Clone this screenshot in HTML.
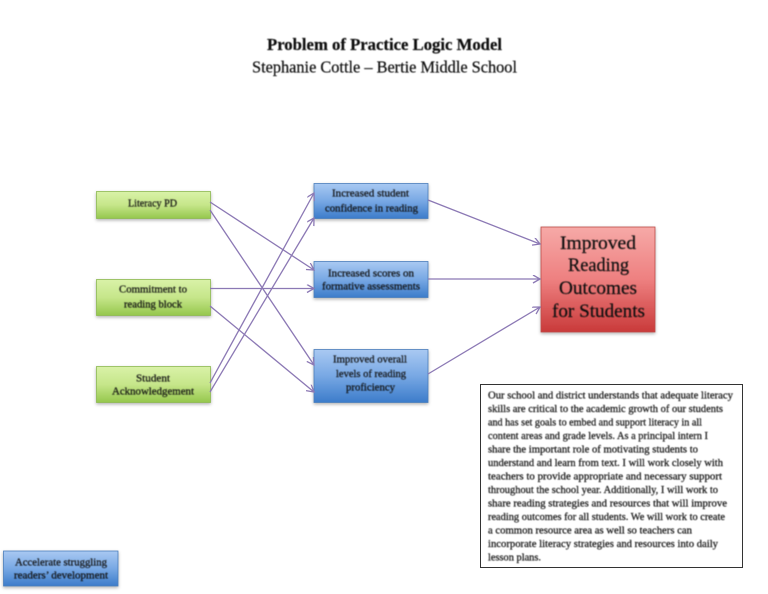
<!DOCTYPE html>
<html>
<head>
<meta charset="utf-8">
<style>
html,body{margin:0;padding:0;background:#fff;}
svg{display:block;}
text{font-family:"Liberation Serif","DejaVu Serif",serif;fill:#111;stroke:#111;stroke-width:0.22px;}
.s{font-size:10.5px;}
.p{font-size:10.5px;}
.r{font-size:19px;}
</style>
</head>
<body>
<svg width="768" height="594" viewBox="0 0 768 594" xmlns="http://www.w3.org/2000/svg">
<defs>
<linearGradient id="g" x1="0" y1="0" x2="0" y2="1"><stop offset="0" stop-color="#d9f2a8"/><stop offset="0.5" stop-color="#c6e68a"/><stop offset="1" stop-color="#95c74d"/></linearGradient>
<linearGradient id="b" x1="0" y1="0" x2="0" y2="1"><stop offset="0" stop-color="#a9c9f2"/><stop offset="0.5" stop-color="#78a8e4"/><stop offset="1" stop-color="#3c7cca"/></linearGradient>
<linearGradient id="rd" x1="0" y1="0" x2="0" y2="1"><stop offset="0" stop-color="#f6a9a7"/><stop offset="0.5" stop-color="#ee8080"/><stop offset="1" stop-color="#c93a3a"/></linearGradient>
<filter id="sh" x="-10%" y="-10%" width="120%" height="130%"><feDropShadow dx="0" dy="1.5" stdDeviation="1.5" flood-color="#000" flood-opacity="0.3"/></filter>
<filter id="bl" x="-5%" y="-5%" width="110%" height="110%"><feGaussianBlur stdDeviation="0.4"/></filter>
<marker id="a" markerWidth="10" markerHeight="10" refX="8" refY="4" orient="auto" markerUnits="userSpaceOnUse"><path d="M1,0 L8,4 L1,8" fill="none" stroke="#8b78b4" stroke-width="1.3"/></marker>
</defs>

<g fill="url(#g)" stroke="#8cb850" stroke-width="0.8" filter="url(#sh)">
<rect x="96.500" y="191.500" width="114" height="27"/>
<rect x="96.500" y="279.500" width="114" height="36"/>
<rect x="96.500" y="366.500" width="114" height="36"/>
</g>
<g fill="url(#b)" stroke="#4a7ebb" stroke-width="0.8" filter="url(#sh)">
<rect x="314" y="183.500" width="114" height="35"/>
<rect x="314" y="261.500" width="114" height="36"/>
<rect x="314" y="349.500" width="114" height="53"/>
<rect x="3.500" y="551" width="114.500" height="35"/>
</g>
<rect x="541" y="227" width="114" height="105" fill="url(#rd)" stroke="#be4b48" stroke-width="0.8" filter="url(#sh)"/>
<rect x="480.500" y="384.500" width="262" height="183" fill="#fff" stroke="#333" stroke-width="1"/>

<g fill="none" stroke="#8b78b4" stroke-width="1.3" marker-end="url(#a)">
<line x1="210" y1="202" x2="314" y2="270"/>
<line x1="210" y1="210" x2="314" y2="365"/>
<line x1="210" y1="288.500" x2="314" y2="288.500"/>
<line x1="210" y1="306" x2="314" y2="392"/>
<line x1="210" y1="383" x2="314" y2="193"/>
<line x1="210" y1="392" x2="314" y2="218"/>
<line x1="428" y1="200" x2="540" y2="244"/>
<line x1="428" y1="279" x2="540" y2="279"/>
<line x1="428" y1="374" x2="540" y2="307"/>
</g>

<g filter="url(#bl)">
<text x="267" y="50" font-size="16.500" font-weight="bold" textLength="235" lengthAdjust="spacingAndGlyphs">Problem of Practice Logic Model</text>
<text x="252" y="72.500" font-size="16.500" textLength="265" lengthAdjust="spacingAndGlyphs">Stephanie Cottle – Bertie Middle School</text>

<text class="s" x="128" y="206.500" textLength="49" lengthAdjust="spacingAndGlyphs">Literacy PD</text>
<text class="s" x="119" y="292.500" textLength="68" lengthAdjust="spacingAndGlyphs">Commitment to</text>
<text class="s" x="124" y="307.500" textLength="58" lengthAdjust="spacingAndGlyphs">reading block</text>
<text class="s" x="136" y="381.500" textLength="34" lengthAdjust="spacingAndGlyphs">Student</text>
<text class="s" x="112" y="394.500" textLength="82" lengthAdjust="spacingAndGlyphs">Acknowledgement</text>

<text class="s" x="332" y="196.500" textLength="77" lengthAdjust="spacingAndGlyphs">Increased student</text>
<text class="s" x="325" y="211.500" textLength="93" lengthAdjust="spacingAndGlyphs">confidence in reading</text>
<text class="s" x="328" y="276.500" textLength="86" lengthAdjust="spacingAndGlyphs">Increased scores on</text>
<text class="s" x="322" y="289.500" textLength="98" lengthAdjust="spacingAndGlyphs">formative assessments</text>
<text class="s" x="333" y="362.500" textLength="74" lengthAdjust="spacingAndGlyphs">Improved overall</text>
<text class="s" x="336" y="377" textLength="70" lengthAdjust="spacingAndGlyphs">levels of reading</text>
<text class="s" x="346" y="390.500" textLength="49" lengthAdjust="spacingAndGlyphs">proficiency</text>

<text class="s" x="15" y="565.500" textLength="92" lengthAdjust="spacingAndGlyphs">Accelerate struggling</text>
<text class="s" x="14" y="578.500" textLength="94" lengthAdjust="spacingAndGlyphs">readers’ development</text>

<text class="r" x="560" y="249" textLength="76" lengthAdjust="spacingAndGlyphs">Improved</text>
<text class="r" x="568" y="271" textLength="61" lengthAdjust="spacingAndGlyphs">Reading</text>
<text class="r" x="559" y="294" textLength="78" lengthAdjust="spacingAndGlyphs">Outcomes</text>
<text class="r" x="552" y="317" textLength="93" lengthAdjust="spacingAndGlyphs">for Students</text>

<text class="p" x="488" y="398.500" textLength="245" lengthAdjust="spacingAndGlyphs">Our school and district understands that adequate literacy</text>
<text class="p" x="488" y="412" textLength="235" lengthAdjust="spacingAndGlyphs">skills are critical to the academic growth of our students</text>
<text class="p" x="488" y="425.500" textLength="214" lengthAdjust="spacingAndGlyphs">and has set goals to embed and support literacy in all</text>
<text class="p" x="488" y="439" textLength="220" lengthAdjust="spacingAndGlyphs">content areas and grade levels. As a principal intern I</text>
<text class="p" x="488" y="452.500" textLength="210" lengthAdjust="spacingAndGlyphs">share the important role of motivating students to</text>
<text class="p" x="488" y="466" textLength="235" lengthAdjust="spacingAndGlyphs">understand and learn from text. I will work closely with</text>
<text class="p" x="488" y="479.500" textLength="234" lengthAdjust="spacingAndGlyphs">teachers to provide appropriate and necessary support</text>
<text class="p" x="488" y="493" textLength="230" lengthAdjust="spacingAndGlyphs">throughout the school year. Additionally, I will work to</text>
<text class="p" x="488" y="506.500" textLength="239" lengthAdjust="spacingAndGlyphs">share reading strategies and resources that will improve</text>
<text class="p" x="488" y="520" textLength="237" lengthAdjust="spacingAndGlyphs">reading outcomes for all students. We will work to create</text>
<text class="p" x="488" y="533.500" textLength="204" lengthAdjust="spacingAndGlyphs">a common resource area as well so teachers can</text>
<text class="p" x="488" y="547" textLength="230" lengthAdjust="spacingAndGlyphs">incorporate literacy strategies and resources into daily</text>
<text class="p" x="488" y="560.500" textLength="53" lengthAdjust="spacingAndGlyphs">lesson plans.</text>
</g>
</svg>
</body>
</html>
